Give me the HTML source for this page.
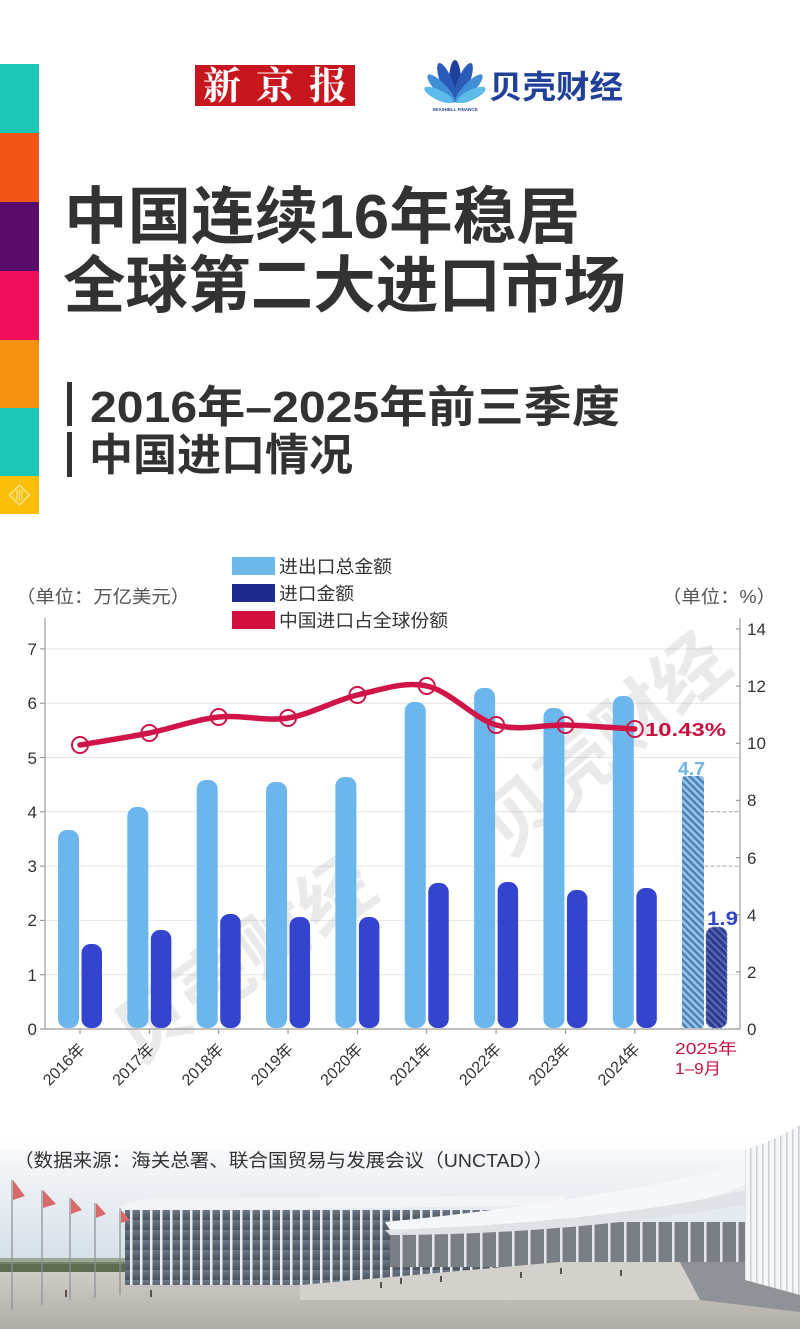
<!DOCTYPE html>
<html>
<head>
<meta charset="utf-8">
<style>
html,body{margin:0;padding:0;background:#fff;}
body{width:800px;height:1329px;overflow:hidden;}
svg{display:block;}
.cjk{font-family:"Liberation Sans","Noto Sans CJK SC",sans-serif;}
</style>
</head>
<body>
<svg width="800" height="1329" viewBox="0 0 800 1329" xmlns="http://www.w3.org/2000/svg">
<defs>
  <pattern id="hatchL" patternUnits="userSpaceOnUse" width="5" height="5" patternTransform="rotate(-45)">
    <rect width="5" height="5" fill="#4f7fae"/>
    <rect width="2.6" height="5" fill="#92c6ee"/>
  </pattern>
  <pattern id="hatchD" patternUnits="userSpaceOnUse" width="5" height="5" patternTransform="rotate(-45)">
    <rect width="5" height="5" fill="#2a3a86"/>
    <rect width="2.2" height="5" fill="#5567b8"/>
  </pattern>
  <linearGradient id="sky" x1="0" y1="0" x2="0" y2="1">
    <stop offset="0" stop-color="#ffffff"/>
    <stop offset="0.35" stop-color="#eef2f6"/>
    <stop offset="1" stop-color="#d3dde7"/>
  </linearGradient>
  <linearGradient id="ground" x1="0" y1="0" x2="0" y2="1">
    <stop offset="0" stop-color="#cfcbc5"/>
    <stop offset="1" stop-color="#b0aca7"/>
  </linearGradient>
  <linearGradient id="glass" x1="0" y1="0" x2="0" y2="1">
    <stop offset="0" stop-color="#6b7888"/>
    <stop offset="1" stop-color="#4a525c"/>
  </linearGradient>
  <pattern id="cols" patternUnits="userSpaceOnUse" width="10" height="10">
    <rect width="10" height="10" fill="url(#glass)"/>
    <rect x="0" width="2.5" height="10" fill="#e9edf1"/>
  </pattern>
  <pattern id="cols2" patternUnits="userSpaceOnUse" width="16" height="10">
    <rect width="16" height="10" fill="#7a7f85"/>
    <rect x="0" width="2.5" height="10" fill="#e4e8ec"/>
  </pattern>
  <pattern id="ribs" patternUnits="userSpaceOnUse" width="6" height="10">
    <rect width="6" height="10" fill="#f4f6f8"/>
    <rect x="0" width="1.5" height="10" fill="#c9d0d8"/>
  </pattern>
</defs>

<!-- left color bar -->
<rect x="0" y="64" width="39" height="69" fill="#1cc8b5"/>
<rect x="0" y="133" width="39" height="69" fill="#f35519"/>
<rect x="0" y="202" width="39" height="69" fill="#5a0c6b"/>
<rect x="0" y="271" width="39" height="69" fill="#f20e5c"/>
<rect x="0" y="340" width="39" height="68" fill="#f39211"/>
<rect x="0" y="408" width="39" height="68" fill="#1cc8b5"/>
<rect x="0" y="476" width="39" height="38" fill="#fbbf0a"/>
<g transform="translate(19.5,495) rotate(45)">
  <rect x="-7" y="-7" width="14" height="14" fill="none" stroke="#fde48e" stroke-width="1.5"/>
</g>
<line x1="17" y1="490" x2="17" y2="500" stroke="#fde48e" stroke-width="1.2"/>
<line x1="19.5" y1="489" x2="19.5" y2="501" stroke="#fde48e" stroke-width="1.2"/>
<line x1="22" y1="490" x2="22" y2="500" stroke="#fde48e" stroke-width="1.2"/>

<!-- logos -->
<rect x="195" y="65" width="160" height="41" fill="#c8161e"/>
<text x="203" y="99" font-family="'Liberation Serif','Noto Serif CJK SC',serif" font-weight="bold" font-size="38" fill="#fff" textLength="144" lengthAdjust="spacing">新京报</text>

<g transform="translate(455,103)">
  <ellipse cx="0" cy="-22" rx="6" ry="21" fill="#1e3f9a"/>
  <ellipse cx="0" cy="-22" rx="6" ry="21" fill="#2a5bb8" transform="rotate(-22)"/>
  <ellipse cx="0" cy="-22" rx="6" ry="21" fill="#2a5bb8" transform="rotate(22)"/>
  <ellipse cx="0" cy="-20" rx="5.5" ry="19" fill="#3f8fd6" transform="rotate(-44)"/>
  <ellipse cx="0" cy="-20" rx="5.5" ry="19" fill="#3f8fd6" transform="rotate(44)"/>
  <ellipse cx="0" cy="-18" rx="5" ry="16" fill="#5cbbe9" transform="rotate(-64)"/>
  <ellipse cx="0" cy="-18" rx="5" ry="16" fill="#5cbbe9" transform="rotate(64)"/>
  <rect x="-30" y="0" width="60" height="4" fill="#fff"/>
</g>
<text x="455" y="111" text-anchor="middle" font-family="'Liberation Sans',sans-serif" font-size="4.5" font-weight="bold" fill="#1e3f9a">SEASHELL FINANCE</text>
<text x="489" y="98" class="cjk" font-weight="bold" font-size="32" fill="#20409a" textLength="134" lengthAdjust="spacingAndGlyphs">贝壳财经</text>

<!-- title -->
<text x="64" y="238" class="cjk" font-weight="bold" font-size="62" fill="#323232" textLength="516" lengthAdjust="spacingAndGlyphs">中国连续16年稳居</text>
<text x="63" y="307" class="cjk" font-weight="bold" font-size="62" fill="#323232" textLength="563" lengthAdjust="spacingAndGlyphs">全球第二大进口市场</text>

<rect x="67" y="382" width="5" height="44" fill="#323232"/>
<rect x="67" y="432" width="5" height="45" fill="#323232"/>
<text x="90" y="422" class="cjk" font-weight="bold" font-size="44" fill="#323232" textLength="530" lengthAdjust="spacingAndGlyphs">2016年–2025年前三季度</text>
<text x="89" y="470" class="cjk" font-weight="bold" font-size="44" fill="#323232" textLength="264" lengthAdjust="spacingAndGlyphs">中国进口情况</text>

<!-- legend -->
<rect x="232" y="557" width="43" height="18" fill="#6cb9ea"/>
<rect x="232" y="584" width="43" height="18" fill="#1f2a8f"/>
<rect x="232" y="611" width="43" height="18" fill="#d21040"/>
<text x="279" y="573" class="cjk" font-size="18" fill="#333" textLength="113" lengthAdjust="spacingAndGlyphs">进出口总金额</text>
<text x="279" y="600" class="cjk" font-size="18" fill="#333" textLength="75" lengthAdjust="spacingAndGlyphs">进口金额</text>
<text x="279" y="627" class="cjk" font-size="18" fill="#333" textLength="169" lengthAdjust="spacingAndGlyphs">中国进口占全球份额</text>

<!-- units -->
<text x="16" y="603" class="cjk" font-size="18" fill="#555" textLength="174" lengthAdjust="spacingAndGlyphs">（单位：万亿美元）</text>
<text x="662" y="603" class="cjk" font-size="18" fill="#555" textLength="114" lengthAdjust="spacingAndGlyphs">（单位：%）</text>

<!-- gridlines -->
<g stroke="#e4e4e4" stroke-width="1">
  <line x1="45" y1="974.7" x2="740" y2="974.7"/>
  <line x1="45" y1="920.4" x2="740" y2="920.4"/>
  <line x1="45" y1="866.1" x2="740" y2="866.1"/>
  <line x1="45" y1="811.8" x2="740" y2="811.8"/>
  <line x1="45" y1="757.5" x2="740" y2="757.5"/>
  <line x1="45" y1="703.2" x2="740" y2="703.2"/>
  <line x1="45" y1="648.9" x2="740" y2="648.9"/>
</g>

<!-- watermarks -->
<text x="245" y="985" text-anchor="middle" transform="rotate(-35 245 960)" class="cjk" font-weight="bold" font-size="74" fill="#8a8a8a" opacity="0.17">贝壳财经</text>
<text x="605" y="770" text-anchor="middle" transform="rotate(-40 605 745)" class="cjk" font-weight="bold" font-size="74" fill="#8a8a8a" opacity="0.17">贝壳财经</text>

<!-- light bars -->
<g fill="#6cb6ee">
  <rect x="58" y="830" width="21" height="198" rx="9"/>
  <rect x="127.35" y="807" width="21" height="221" rx="9"/>
  <rect x="196.7" y="780" width="21" height="248" rx="9"/>
  <rect x="266.05" y="782" width="21" height="246" rx="9"/>
  <rect x="335.4" y="777" width="21" height="251" rx="9"/>
  <rect x="404.75" y="702" width="21" height="326" rx="9"/>
  <rect x="474.1" y="688" width="21" height="340" rx="9"/>
  <rect x="543.45" y="708" width="21" height="320" rx="9"/>
  <rect x="612.8" y="696" width="21" height="332" rx="9"/>
</g>
<rect x="682" y="776" width="22" height="252" rx="3" fill="url(#hatchL)"/>
<!-- dark bars -->
<g fill="#3444cf">
  <rect x="81.5" y="944" width="20.5" height="84" rx="9"/>
  <rect x="150.85" y="930" width="20.5" height="98" rx="9"/>
  <rect x="220.2" y="914" width="20.5" height="114" rx="9"/>
  <rect x="289.55" y="917" width="20.5" height="111" rx="9"/>
  <rect x="358.9" y="917" width="20.5" height="111" rx="9"/>
  <rect x="428.25" y="883" width="20.5" height="145" rx="9"/>
  <rect x="497.6" y="882" width="20.5" height="146" rx="9"/>
  <rect x="566.95" y="890" width="20.5" height="138" rx="9"/>
  <rect x="636.3" y="888" width="20.5" height="140" rx="9"/>
</g>
<rect x="706" y="927" width="21" height="101" rx="8" fill="url(#hatchD)" stroke="#6c7cc6" stroke-width="1" stroke-dasharray="2,2"/>
<!-- dashed gridlines near 2025 -->
<g stroke="#aaaaaa" stroke-width="1" stroke-dasharray="3,3">
  <line x1="705" y1="811.8" x2="738" y2="811.8"/>
  <line x1="705" y1="866.1" x2="738" y2="866.1"/>
</g>

<!-- axes -->
<g stroke="#9a9a9a" stroke-width="1.2">
  <line x1="45" y1="618" x2="45" y2="1029"/>
  <line x1="740" y1="618" x2="740" y2="1029"/>
  <line x1="45" y1="1029" x2="740" y2="1029"/>
  <line x1="40" y1="1029" x2="45" y2="1029"/>
  <line x1="40" y1="974.7" x2="45" y2="974.7"/>
  <line x1="40" y1="920.4" x2="45" y2="920.4"/>
  <line x1="40" y1="866.1" x2="45" y2="866.1"/>
  <line x1="40" y1="811.8" x2="45" y2="811.8"/>
  <line x1="40" y1="757.5" x2="45" y2="757.5"/>
  <line x1="40" y1="703.2" x2="45" y2="703.2"/>
  <line x1="40" y1="648.9" x2="45" y2="648.9"/>
  <line x1="736" y1="1029" x2="740" y2="1029"/>
  <line x1="736" y1="971.9" x2="740" y2="971.9"/>
  <line x1="736" y1="914.7" x2="740" y2="914.7"/>
  <line x1="736" y1="857.6" x2="740" y2="857.6"/>
  <line x1="736" y1="800.4" x2="740" y2="800.4"/>
  <line x1="736" y1="743.3" x2="740" y2="743.3"/>
  <line x1="736" y1="686.1" x2="740" y2="686.1"/>
  <line x1="736" y1="629" x2="740" y2="629"/>
  <line x1="80" y1="1029" x2="80" y2="1034"/>
  <line x1="149.35" y1="1029" x2="149.35" y2="1034"/>
  <line x1="218.7" y1="1029" x2="218.7" y2="1034"/>
  <line x1="288.05" y1="1029" x2="288.05" y2="1034"/>
  <line x1="357.4" y1="1029" x2="357.4" y2="1034"/>
  <line x1="426.75" y1="1029" x2="426.75" y2="1034"/>
  <line x1="496.1" y1="1029" x2="496.1" y2="1034"/>
  <line x1="565.45" y1="1029" x2="565.45" y2="1034"/>
  <line x1="634.8" y1="1029" x2="634.8" y2="1034"/>
</g>

<!-- left tick labels -->
<g font-family="'Liberation Sans',sans-serif" font-size="17" fill="#333" text-anchor="end">
  <text x="37" y="1035">0</text>
  <text x="37" y="981">1</text>
  <text x="37" y="926">2</text>
  <text x="37" y="872">3</text>
  <text x="37" y="818">4</text>
  <text x="37" y="764">5</text>
  <text x="37" y="709">6</text>
  <text x="37" y="655">7</text>
</g>
<!-- right tick labels -->
<g font-family="'Liberation Sans',sans-serif" font-size="17" fill="#333">
  <text x="747" y="1035">0</text>
  <text x="747" y="978">2</text>
  <text x="747" y="921">4</text>
  <text x="747" y="864">6</text>
  <text x="747" y="806">8</text>
  <text x="747" y="749">10</text>
  <text x="747" y="692">12</text>
  <text x="747" y="635">14</text>
</g>

<!-- x labels -->
<g class="cjk" font-size="16" fill="#333" text-anchor="end">
  <text x="86" y="1050" transform="rotate(-45 86 1050)">2016年</text>
  <text x="155.35" y="1050" transform="rotate(-45 155.35 1050)">2017年</text>
  <text x="224.7" y="1050" transform="rotate(-45 224.7 1050)">2018年</text>
  <text x="294.05" y="1050" transform="rotate(-45 294.05 1050)">2019年</text>
  <text x="363.4" y="1050" transform="rotate(-45 363.4 1050)">2020年</text>
  <text x="432.75" y="1050" transform="rotate(-45 432.75 1050)">2021年</text>
  <text x="502.1" y="1050" transform="rotate(-45 502.1 1050)">2022年</text>
  <text x="571.45" y="1050" transform="rotate(-45 571.45 1050)">2023年</text>
  <text x="640.8" y="1050" transform="rotate(-45 640.8 1050)">2024年</text>
</g>
<text x="675" y="1054" class="cjk" font-size="16" fill="#c8103f" textLength="62" lengthAdjust="spacingAndGlyphs">2025年</text>
<text x="675" y="1074" class="cjk" font-size="16" fill="#c8103f" textLength="46" lengthAdjust="spacingAndGlyphs">1–9月</text>

<!-- share line -->
<path d="M80,745 C91.5,743 125.8,737.7 149.35,733 C172.2,728.3 195.8,719.5 218.7,717 C242.2,714.5 264.8,721.7 288.05,718 C311.2,714.3 334.8,700.3 357.4,695 C381.2,689.7 403.8,681 426.75,686 C450.2,691 473.8,718.5 496.1,725 C520.2,731.5 543.2,724.3 565.45,725 C588.8,725.7 622.7,728.3 634.8,729" fill="none" stroke="#d01448" stroke-width="5.5" stroke-linecap="round"/>
<g fill="none" stroke="#d01448" stroke-width="2">
  <circle cx="80" cy="745" r="8"/>
  <circle cx="149.35" cy="733" r="8"/>
  <circle cx="218.7" cy="717" r="8"/>
  <circle cx="288.05" cy="718" r="8"/>
  <circle cx="357.4" cy="695" r="8"/>
  <circle cx="426.75" cy="686" r="8"/>
  <circle cx="496.1" cy="725" r="8"/>
  <circle cx="565.45" cy="725" r="8"/>
  <circle cx="634.8" cy="729" r="8"/>
</g>
<text x="645" y="736" font-family="'Liberation Sans',sans-serif" font-weight="bold" font-size="18" fill="#c8103e" textLength="81" lengthAdjust="spacingAndGlyphs">10.43%</text>
<text x="678" y="775" font-family="'Liberation Sans',sans-serif" font-weight="bold" font-size="18" fill="#6cb4ea" textLength="27" lengthAdjust="spacingAndGlyphs">4.7</text>
<text x="707" y="925" font-family="'Liberation Sans',sans-serif" font-weight="bold" font-size="19" fill="#3445cc" textLength="31" lengthAdjust="spacingAndGlyphs">1.9</text>

<!-- bottom photo -->
<rect x="0" y="1130" width="800" height="140" fill="url(#sky)"/>
<rect x="0" y="1130" width="800" height="20" fill="#fff" opacity="0.6"/>
<!-- trees left -->
<rect x="0" y="1262" width="125" height="14" fill="#5d6d52"/>
<rect x="0" y="1258" width="125" height="6" fill="#7f8f72" opacity="0.7"/>
<!-- ground -->
<rect x="0" y="1272" width="800" height="57" fill="url(#ground)"/>
<!-- main building -->
<path d="M118,1208 Q130,1200 160,1198 L565,1196 L565,1205 L118,1212 Z" fill="#f2f4f6"/>
<rect x="125" y="1210" width="440" height="75" fill="url(#cols)"/>
<!-- right section -->
<rect x="390" y="1222" width="355" height="45" fill="url(#cols2)"/>
<path d="M385,1222 Q560,1205 700,1175 Q760,1160 790,1135 L795,1150 Q760,1185 700,1200 Q560,1225 390,1230 Z" fill="#f6f7f9"/>
<path d="M385,1230 Q560,1225 700,1200 L745,1190 L745,1205 Q560,1235 390,1235 Z" fill="#dfe3e7"/>
<!-- plaza steps -->
<path d="M300,1285 L560,1262 L680,1262 L700,1300 L300,1300 Z" fill="#d4d1cc"/>
<g fill="#5a524c">
  <rect x="380" y="1282" width="2" height="6"/><rect x="400" y="1278" width="2" height="6"/>
  <rect x="440" y="1276" width="2" height="6"/><rect x="520" y="1272" width="2" height="6"/>
  <rect x="560" y="1268" width="2" height="6"/><rect x="620" y="1270" width="2" height="6"/>
  <rect x="150" y="1290" width="2" height="7"/><rect x="65" y="1290" width="2" height="7"/>
</g>
<!-- gray ramp right -->
<path d="M680,1262 L760,1262 L800,1290 L800,1312 L700,1300 Z" fill="#8f9296"/>
<!-- right ribbed structure -->
<path d="M745,1150 Q775,1140 800,1125 L800,1295 L745,1280 Z" fill="url(#ribs)"/>
<!-- flags -->
<g stroke="#8a8f95" stroke-width="1.2">
  <line x1="12" y1="1180" x2="12" y2="1310"/>
  <line x1="42" y1="1190" x2="42" y2="1305"/>
  <line x1="70" y1="1198" x2="70" y2="1300"/>
  <line x1="95" y1="1203" x2="95" y2="1298"/>
  <line x1="120" y1="1208" x2="120" y2="1295"/>
</g>
<g fill="#d96a6a">
  <path d="M13,1180 L25,1196 L13,1200 Z"/>
  <path d="M43,1190 L56,1204 L43,1208 Z"/>
  <path d="M71,1198 L82,1210 L71,1214 Z"/>
  <path d="M96,1203 L106,1214 L96,1218 Z"/>
  <path d="M121,1210 L130,1220 L121,1223 Z"/>
</g>

<!-- source text -->
<text x="14" y="1167" class="cjk" font-size="18.5" fill="#333" textLength="539" lengthAdjust="spacingAndGlyphs">（数据来源：海关总署、联合国贸易与发展会议（UNCTAD））</text>
</svg>
</body>
</html>
